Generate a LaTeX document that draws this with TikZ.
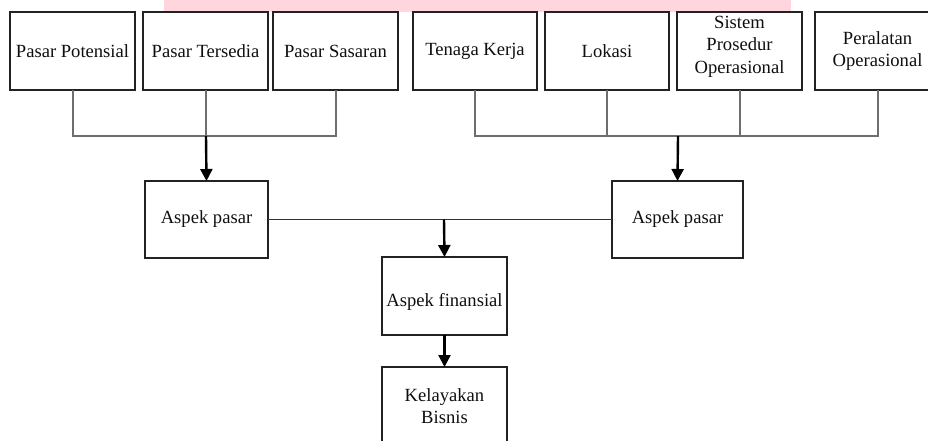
\documentclass[tikz,border=0pt]{standalone}
\usepackage{fontspec}
\setmainfont{Liberation Serif}
\usetikzlibrary{arrows.meta}
\definecolor{band}{RGB}{255,214,221}
\definecolor{edge}{RGB}{34,34,34}
\definecolor{conncol}{RGB}{110,110,110}
\definecolor{txtcol}{RGB}{15,15,15}
\tikzset{
  box/.style={draw=edge, line width=1.4pt, fill=white, inner sep=0pt, outer sep=0pt,
    minimum height=78pt, align=center, text=txtcol,
    font=\fontsize{18.6}{22.5}\selectfont},
  txt/.style={inner sep=0pt, align=center, text=txtcol, font=\fontsize{18.6}{22.5}\selectfont},
  conn/.style={draw=conncol, line width=2pt},
  arr/.style={draw=black, line width=2.4pt, -{Triangle[width=12pt,length=12pt]}},
}
\begin{document}
\begin{tikzpicture}[x=1pt,y=-1pt]
\useasboundingbox (0,0) rectangle (928,441);
\clip (0,0) rectangle (928,441);
\fill[band] (164,0) rectangle (791,12);
% top row
\node[box, minimum width=125pt] (p1) at (72.5,51) {Pasar Potensial};
\node[box, minimum width=125pt] (p2) at (205.5,51) {Pasar Tersedia};
\node[box, minimum width=125pt] (p3) at (335.5,51) {Pasar Sasaran};
\node[box, minimum width=124pt] (r1) at (475,51) {Tenaga Kerja};
\node[box, minimum width=124pt] (r2) at (607,51) {Lokasi};
\node[box, minimum width=125pt] (r3) at (739.5,51) {};
\node[txt] (r3t) at (739.5,46.5) {Sistem\\Prosedur\\Operasional};
\node[box, minimum width=125pt] (r4) at (877.5,51) {Peralatan\\Operasional};
% middle
\node[box, minimum width=123pt, minimum height=77pt] (ap1) at (206.5,219.5) {Aspek pasar};
\node[box, minimum width=131pt, minimum height=77pt] (ap2) at (677.5,219.5) {Aspek pasar};
\node[box, minimum width=125pt] (af) at (444.5,296) {};
\node[txt] (aft) at (444.5,302) {Aspek finansial};
\node[box, minimum width=125pt] (kb) at (444.5,406) {Kelayakan\\Bisnis};
% junctions
\coordinate (j1) at (206,136);
\coordinate (j2) at (678,136);
\coordinate (j3) at (444,219.5);
% left group connectors
\draw[conn] (p1.south) |- (p3.south |- j1) -- (p3.south);
\draw[conn] (p2.south) -- (p2.south |- j1);
\draw[arr] (j1) -- (ap1.north);
% right group connectors
\draw[conn] (r1.south) |- (r4.south |- j2) -- (r4.south);
\draw[conn] (r2.south) -- (r2.south |- j2);
\draw[conn] (r3.south) -- (r3.south |- j2);
\draw[arr] (j2) -- (ap2.north);
% middle
\draw[conn, draw=black!80, line width=1.8pt] (ap1.east) -- (ap2.west);
\draw[arr] (j3) -- (af.north);
\draw[arr] (af.south) -- (kb.north);
\end{tikzpicture}
\end{document}
